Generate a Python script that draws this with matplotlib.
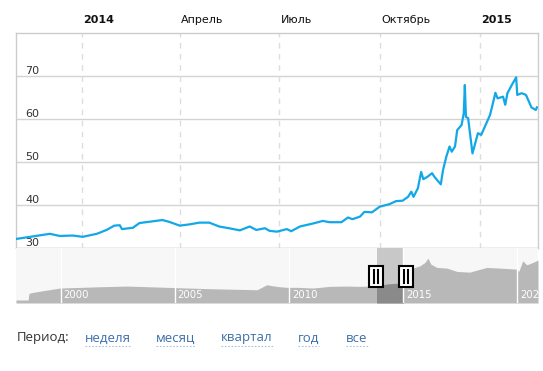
import datetime as dt
import matplotlib
matplotlib.use('Agg')
import matplotlib.pyplot as plt
from matplotlib.patches import Rectangle
from matplotlib.lines import Line2D

# USD/RUB, Nov 2013 - Feb 2015
rate_dates = ['2013-11-02', '2013-11-15', '2013-12-03', '2013-12-12', '2013-12-24',
              '2014-01-02', '2014-01-15', '2014-01-24', '2014-01-31', '2014-02-05',
              '2014-02-07', '2014-02-17', '2014-02-23', '2014-03-04', '2014-03-16',
              '2014-03-22', '2014-04-01', '2014-04-10', '2014-04-19', '2014-04-28',
              '2014-05-07', '2014-05-16', '2014-05-26', '2014-06-04', '2014-06-10',
              '2014-06-18', '2014-06-22', '2014-06-29', '2014-07-08', '2014-07-12',
              '2014-07-20', '2014-08-01', '2014-08-10', '2014-08-16', '2014-08-27',
              '2014-09-02', '2014-09-06', '2014-09-13', '2014-09-17', '2014-09-24',
              '2014-10-01', '2014-10-10', '2014-10-16', '2014-10-22', '2014-10-27',
              '2014-10-30', '2014-11-01', '2014-11-05', '2014-11-08', '2014-11-10',
              '2014-11-14', '2014-11-18', '2014-11-20', '2014-11-26', '2014-11-28',
              '2014-12-01', '2014-12-04', '2014-12-06', '2014-12-09', '2014-12-11',
              '2014-12-15', '2014-12-17', '2014-12-18', '2014-12-19', '2014-12-21',
              '2014-12-25', '2014-12-30', '2015-01-02', '2015-01-10', '2015-01-12',
              '2015-01-15', '2015-01-17', '2015-01-22', '2015-01-24', '2015-01-26',
              '2015-01-30', '2015-02-03', '2015-02-04', '2015-02-08', '2015-02-12',
              '2015-02-17', '2015-02-21', '2015-02-22']
rate_values = [32.1, 32.6, 33.3, 32.8, 32.9,
               32.6, 33.3, 34.2, 35.2, 35.3,
               34.4, 34.7, 35.8, 36.1, 36.5,
               36.1, 35.2, 35.5, 35.9, 35.9,
               35.0, 34.6, 34.1, 35.0, 34.2,
               34.6, 34.0, 33.8, 34.4, 33.9,
               35.0, 35.7, 36.3, 36.0, 36.0,
               37.1, 36.7, 37.3, 38.4, 38.3,
               39.6, 40.2, 40.9, 41.0, 41.9,
               43.1, 41.9, 43.9, 47.7, 46.0,
               46.6, 47.4, 46.6, 44.8, 48.1,
               51.2, 53.6, 52.4, 53.6, 57.4,
               58.6, 61.3, 67.9, 60.5, 60.2,
               52.0, 56.7, 56.3, 60.9, 62.9,
               66.1, 64.8, 65.2, 63.3, 66.0,
               67.9, 69.7, 65.6, 66.0, 65.6,
               62.7, 62.1, 62.7]

top_tick_dates = ['2014-01-01', '2014-04-01', '2014-07-01', '2014-10-01', '2015-01-01']
top_tick_labels = ['2014', 'Апрель', 'Июль', 'Октябрь', '2015']
top_tick_bold = [True, False, False, False, True]
y_ticks = [30, 40, 50, 60, 70]

# navigator: whole history
nav_years = [1998.05, 1998.58, 1998.62, 1998.8, 1999.23, 1999.98, 2001.73, 2002.91,
             2004.66, 2005.53, 2006.67, 2008.6, 2009.03, 2009.25, 2009.6, 2009.91,
             2010.35, 2011.05, 2011.79, 2012.53, 2013.1, 2013.85, 2014.28, 2014.85,
             2014.98, 2015.07, 2015.51, 2015.73, 2015.95, 2016.08, 2016.21, 2016.47,
             2016.91, 2017.35, 2017.91, 2018.66, 2019.23, 2019.97, 2020.06, 2020.23,
             2020.41, 2020.67, 2020.9]
nav_values = [5.2, 5.2, 16.8, 18.5, 21.3, 26.0, 28.2, 29.4,
              27.2, 26.0, 24.7, 23.0, 31.7, 30.0, 28.2, 27.2,
              27.2, 26.0, 28.9, 29.4, 28.9, 29.9, 32.9, 34.6,
              35.5, 55.9, 61.8, 64.5, 70.4, 77.9, 67.5, 61.8,
              60.6, 54.8, 53.6, 61.8, 60.6, 58.8, 54.8, 73.2,
              66.3, 70.4, 74.4]
nav_year_ticks = [2000, 2005, 2010, 2015, 2020]
sel_start, sel_end = 2013.85, 2014.98

period_labels = ['неделя', 'месяц', 'квартал', 'год', 'все']

W, H = 543, 371
fig = plt.figure(figsize=(W / 100, H / 100), dpi=100)
fig.patch.set_facecolor('white')

# ---- main chart
ax = fig.add_axes([16 / W, 123 / H, 522 / W, 215 / H])
dates = [dt.datetime.strptime(d, '%Y-%m-%d') for d in rate_dates]
ax.plot(dates, rate_values, color='#12a8e8', lw=1.6, solid_joinstyle='round', zorder=3)
ax.set_xlim(dt.datetime(2013, 11, 2), dt.datetime(2015, 2, 23))
ax.set_ylim(30, 80)
ax.set_xticks([])
ax.set_yticks([])
for s in ax.spines.values():
    s.set_color('#cccccc')
    s.set_linewidth(1)
for v in y_ticks:
    ax.axhline(v, color='#d3d3d3', lw=1, zorder=1)
    ax.annotate(str(v), xy=(0, v), xycoords=('axes fraction', 'data'),
                xytext=(6.5, 1.3), textcoords='offset points', va='baseline',
                ha='left', fontsize=8, color='#333333', annotation_clip=False)
for d, lab, b in zip(top_tick_dates, top_tick_labels, top_tick_bold):
    x = dt.datetime.strptime(d, '%Y-%m-%d')
    ax.axvline(x, color='#dddddd', lw=1, ls=(0, (4, 4)), zorder=1)
    ax.annotate(lab, xy=(x, 1), xycoords=('data', 'axes fraction'),
                xytext=(1, 7), textcoords='offset points', va='baseline', ha='left',
                fontsize=8, color='#111111', fontweight='bold' if b else 'normal',
                annotation_clip=False)

# ---- navigator
nav = fig.add_axes([16 / W, 68 / H, 522 / W, 54.7 / H])
nav.set_facecolor('#f7f7f7')
nav.axvspan(sel_start, sel_end, color='#c8c8c8', lw=0, zorder=0.5)
nav.fill_between(nav_years, nav_values, color='#b8b8b8', lw=0, zorder=1)
dark = nav.fill_between(nav_years, nav_values, color='#8a8a8a', lw=0, zorder=2)
dark.set_clip_path(Rectangle((sel_start, 0), sel_end - sel_start, 100,
                             transform=nav.transData))
nav.set_xlim(1998.05, 2020.9)
nav.set_ylim(0, 95)
nav.set_xticks([])
nav.set_yticks([])
for s in nav.spines.values():
    s.set_visible(False)
for yr in nav_year_ticks:
    nav.axvline(yr, color='white', lw=1, zorder=3)
    nav.annotate(str(yr), xy=(yr, 0), xycoords=('data', 'axes fraction'),
                 xytext=(2, 3.5), textcoords='offset points', va='baseline',
                 ha='left', fontsize=7.3, color='white', zorder=4)
# drag handles
for hx in [(369 - 16) / 522, (399 - 16) / 522]:
    nav.add_patch(Rectangle((hx, 0.287), 14 / 522, 0.395, transform=nav.transAxes,
                            facecolor='white', edgecolor='black', lw=1.5, zorder=5))
    for off in [5, 9.3]:
        nav.add_line(Line2D([hx + off / 522] * 2, [0.36, 0.603], transform=nav.transAxes,
                            color='black', lw=1.5, zorder=6))

# ---- period selector
base_y = (H - 341.5) / H
fig.text(17 / W, base_y, 'Период:', fontfamily='Open Sans', fontsize=9.5,
         color='#333333', va='baseline')
link_x = [85, 156, 221, 298, 346]
links = []
for x, lab in zip(link_x, period_labels):
    links.append(fig.text(x / W, base_y, lab, fontfamily='Open Sans', fontsize=9.5,
                          color='#3d6fa8', va='baseline'))
fig.canvas.draw()
for t in links:
    bb = t.get_window_extent()
    fig.add_artist(Line2D([bb.x0 / W, bb.x1 / W], [(H - 345.5) / H] * 2,
                          transform=fig.transFigure, color='#a8c3e0', lw=0.8,
                          ls=(0, (1.5, 1.5))))

fig.savefig('out.png', dpi=100)
